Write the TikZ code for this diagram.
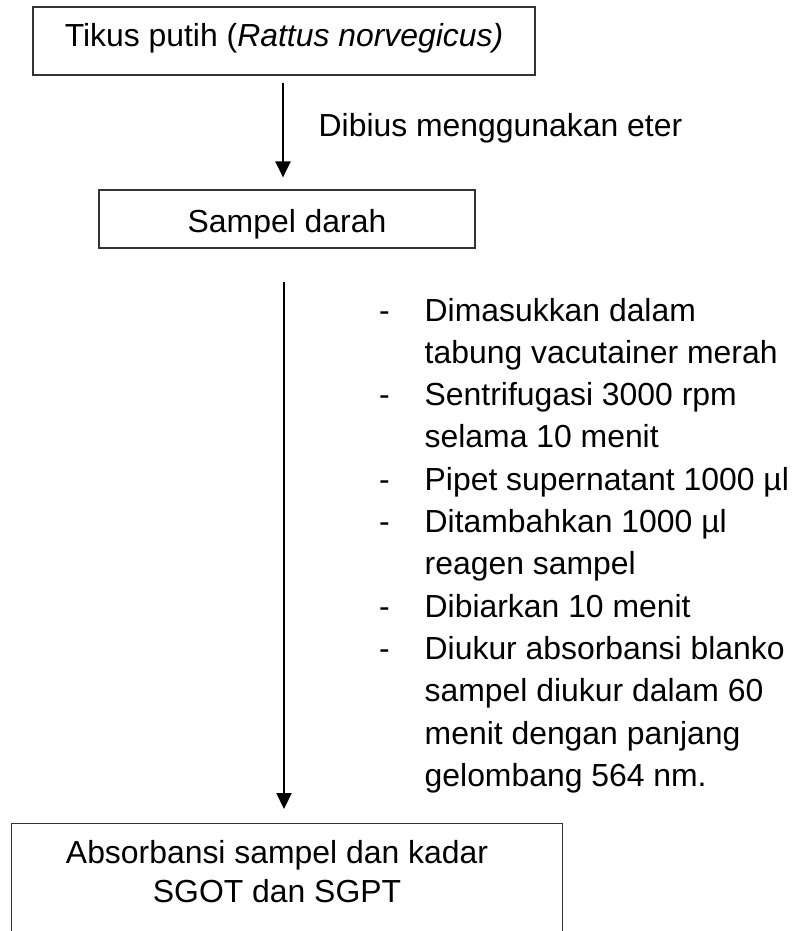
\documentclass[tikz,border=0pt]{standalone}
\usepackage{fontspec}
\setmainfont{Liberation Sans}
\usetikzlibrary{arrows.meta}
\begin{document}
\begin{tikzpicture}[x=1pt,y=-1pt,
  every node/.style={font=\fontsize{31.9}{42.3}\selectfont, inner sep=0pt},
  frame/.style={draw=black!80, line width=1.2pt},
  arr/.style={line width=2.2pt, -{Triangle[width=15pt,length=16pt]}},
  txt/.style={anchor=base west},
]
\useasboundingbox (0,0) rectangle (798,931);
\clip (0,0) rectangle (798,931);

% boxes
\node (top) [frame, minimum width=502pt, minimum height=68pt, text height=23pt, text depth=11pt]
  at (284,41) {Tikus putih (\textit{Rattus norvegicus)}};
\node (samp) [frame, minimum width=376pt, minimum height=58pt, text height=26pt, text depth=0pt]
  at (287,219) {Sampel darah};
\node (res) [frame, anchor=north west, minimum width=551pt, minimum height=160pt] at (11,823) {};
\node (res1) [anchor=base] at (277,863) {Absorbansi sampel dan kadar};
\node (res2) [anchor=base] at (277,902) {SGOT dan SGPT};

% arrows
\coordinate (ax1) at (283,0);
\coordinate (ax2) at (284,0);
\draw[arr, shorten <=7pt, shorten >=12pt] (top.south -| ax1) -- (samp.north -| ax1);
\draw[arr, shorten <=33pt, shorten >=14pt] (samp.south -| ax2) -- (res.north -| ax2);

% labels
\node (lbl) [txt] at (318.5,136) {Dibius menggunakan eter};

\foreach \k in {0,2,4,5,7,8}
  \node (d\k) [txt] at (379,{321+42.3*\k}) {-};
\foreach \k/\t in {0/Dimasukkan dalam,
                   1/tabung vacutainer merah,
                   2/Sentrifugasi 3000 rpm,
                   3/selama 10 menit,
                   4/Pipet supernatant 1000 µl,
                   5/Ditambahkan 1000 µl,
                   6/reagen sampel,
                   7/Dibiarkan 10 menit,
                   8/Diukur absorbansi blanko,
                   9/sampel diukur dalam 60,
                   10/menit dengan panjang,
                   11/gelombang 564 nm.}
  \node (l\k) [txt] at (424.5,{321+42.3*\k}) {\t};
\end{tikzpicture}
\end{document}
